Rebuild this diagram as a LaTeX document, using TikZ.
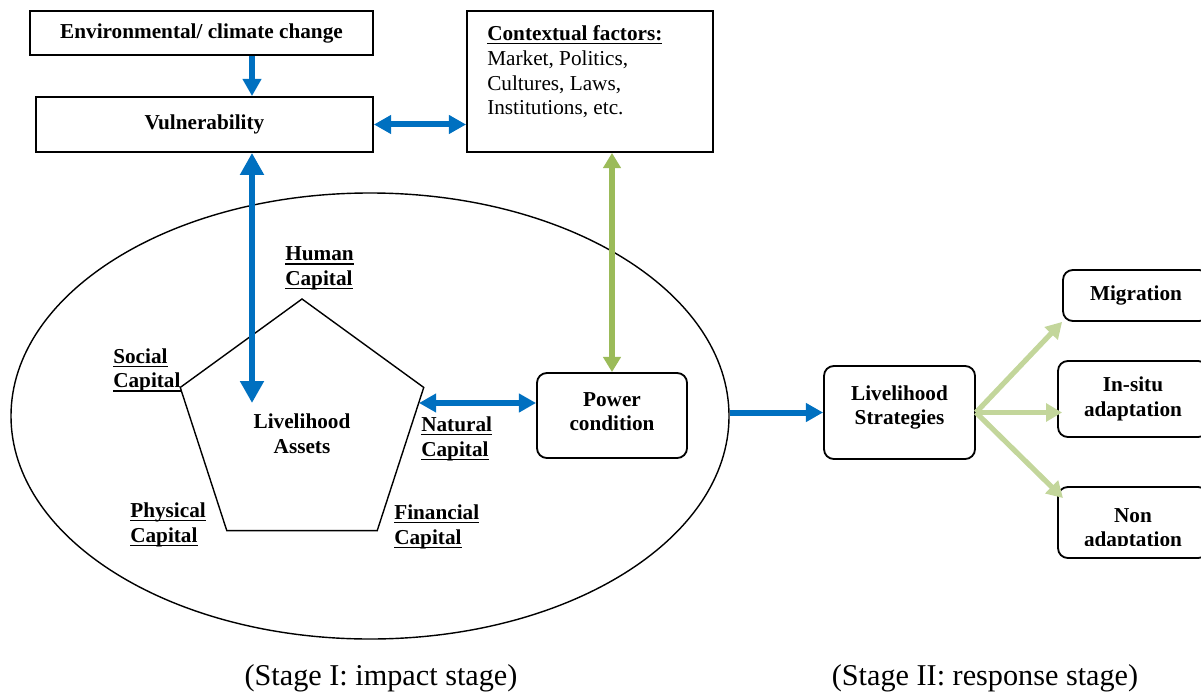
\documentclass[tikz,border=0pt]{standalone}
\usepackage{fontspec}
\setmainfont{Liberation Serif}
\usetikzlibrary{arrows.meta, shapes.geometric}
\definecolor{flowblue}{HTML}{0070C0}
\definecolor{powgreen}{HTML}{9BBB59}
\definecolor{outgreen}{HTML}{C3D69B}
\newcommand\undl[1]{\setbox0\hbox{#1}\rlap{\rule[-2.6pt]{\wd0}{0.9pt}}\box0}

\begin{document}
\begin{tikzpicture}
      [ x=0.25mm, y=-0.25mm
      , font=\fontsize{15.1}{17.5}\selectfont\bfseries
      , box/.style={draw, line width=1.3pt, inner sep=0pt}
      , rbox/.style={box, rounded corners=7pt, align=center}
      , capital/.style={anchor=west, inner sep=0pt, align=left}
      , blueflow/.style={flowblue, draw, line width=1.5mm, >={Triangle[length=4.3mm, width=4.5mm]}}
      , powflow/.style={powgreen, draw, line width=1.5mm, >={Triangle[length=3.8mm, width=4.3mm]}}
      , outflow/.style={outgreen, draw, line width=1.3mm, >={Triangle[length=4mm, width=4.4mm]}}
      , stagetxt/.style={font=\fontsize{21.5}{25}\selectfont, anchor=base}
      ]
    \useasboundingbox (0,0) rectangle (1201,693);
    \clip (0,0) rectangle (1201,693);

    \node[box, minimum width=85.75mm, minimum height=11mm] (env) at (201.5,33) {Environmental/ climate change};
    \node[box, minimum width=84.25mm, minimum height=13.75mm] (vul) at (204.5,124.5) {Vulnerability};
    \node[box, minimum width=61.5mm, minimum height=35.25mm] (ctx) at (590,81.5) {};
    \node[anchor=north west, inner sep=0pt, align=left, font=\fontsize{15.1}{17.6}\selectfont] (ctxtxt) at (487,25.5)
      {\textbf{\undl{Contextual factors:}}\\Market, Politics,\\Cultures, Laws,\\Institutions, etc.};

    % stage I
    \node[draw, ellipse, line width=1pt, minimum width=179.5mm, minimum height=111.5mm, inner sep=0pt] (stageI) at (370,416) {};
    \node[draw, regular polygon, regular polygon sides=5, line width=1pt, minimum size=64mm, inner sep=0pt] (assets) at (302,427) {};
    \node[align=center] (assetstxt) at (302,433.5) {Livelihood\\Assets};

    \node[capital] (human) at (285,268.5) {\undl{Human}\\\undl{Capital}};
    \node[capital] (social) at (113,370.5) {\undl{Social}\\\undl{Capital}};
    \node[capital] (physical) at (130,525) {\undl{Physical}\\\undl{Capital}};
    \node[capital] (natural) at (421,439) {\undl{Natural}\\\undl{Capital}};
    \node[capital] (financial) at (394,527) {\undl{Financial}\\\undl{Capital}};

    \node[rbox, text depth=5.6pt, minimum width=37.5mm, minimum height=21.25mm] (power) at (612,415.5) {Power\\condition};

    % stage II
    \node[rbox, text depth=10.5pt, minimum width=37.75mm, minimum height=23.25mm] (strat) at (899.5,412.5) {Livelihood\\Strategies};
    \node[rbox, minimum width=36.5mm, minimum height=12.75mm] (migr) at (1136,295.5) {Migration};
    \node[rbox, minimum width=37.5mm, minimum height=19mm] (insitu) at (1133,399) {In-situ\\adaptation};
    \node[rbox, minimum width=37.5mm, minimum height=17.75mm] (nonad) at (1133,522.5) {};
    \begin{scope}
      \clip (1058,480) rectangle (1210,545);
      \node[align=center] (nonadtxt) at (1133,530) {Non\\adaptation};
    \end{scope}

    \node[stagetxt] (stage1) at (381,685) {(Stage I: impact stage)};
    \node[stagetxt] (stage2) at (985,685) {(Stage II: response stage)};

    \coordinate (vtip) at (252,403);
    \coordinate (nat) at (419,403);
    \coordinate (nontip) at (1063,498);

    \draw[blueflow]
    (env.south -| vtip) edge[->] (vul.north -| vtip)
    (stageI.east |- strat) edge[->] (strat.west)
    (vul.east) edge[<->] (vul.east -| ctx.west)
    (nat) edge[<->] (nat -| power.west);

    \draw[blueflow, >={Triangle[length=5.5mm, width=5.7mm]}]
    (vul.south -| vtip) edge[<->] (vtip);

    \draw[powflow]
    (ctx.south -| power.north) edge[<->] (power.north);

    \draw[outflow]
    (strat.east) edge[->] (migr.south west)
    (strat.east) edge[->] (strat.east -| migr.west)
    (strat.east) edge[->] (nontip);
\end{tikzpicture}
\end{document}
